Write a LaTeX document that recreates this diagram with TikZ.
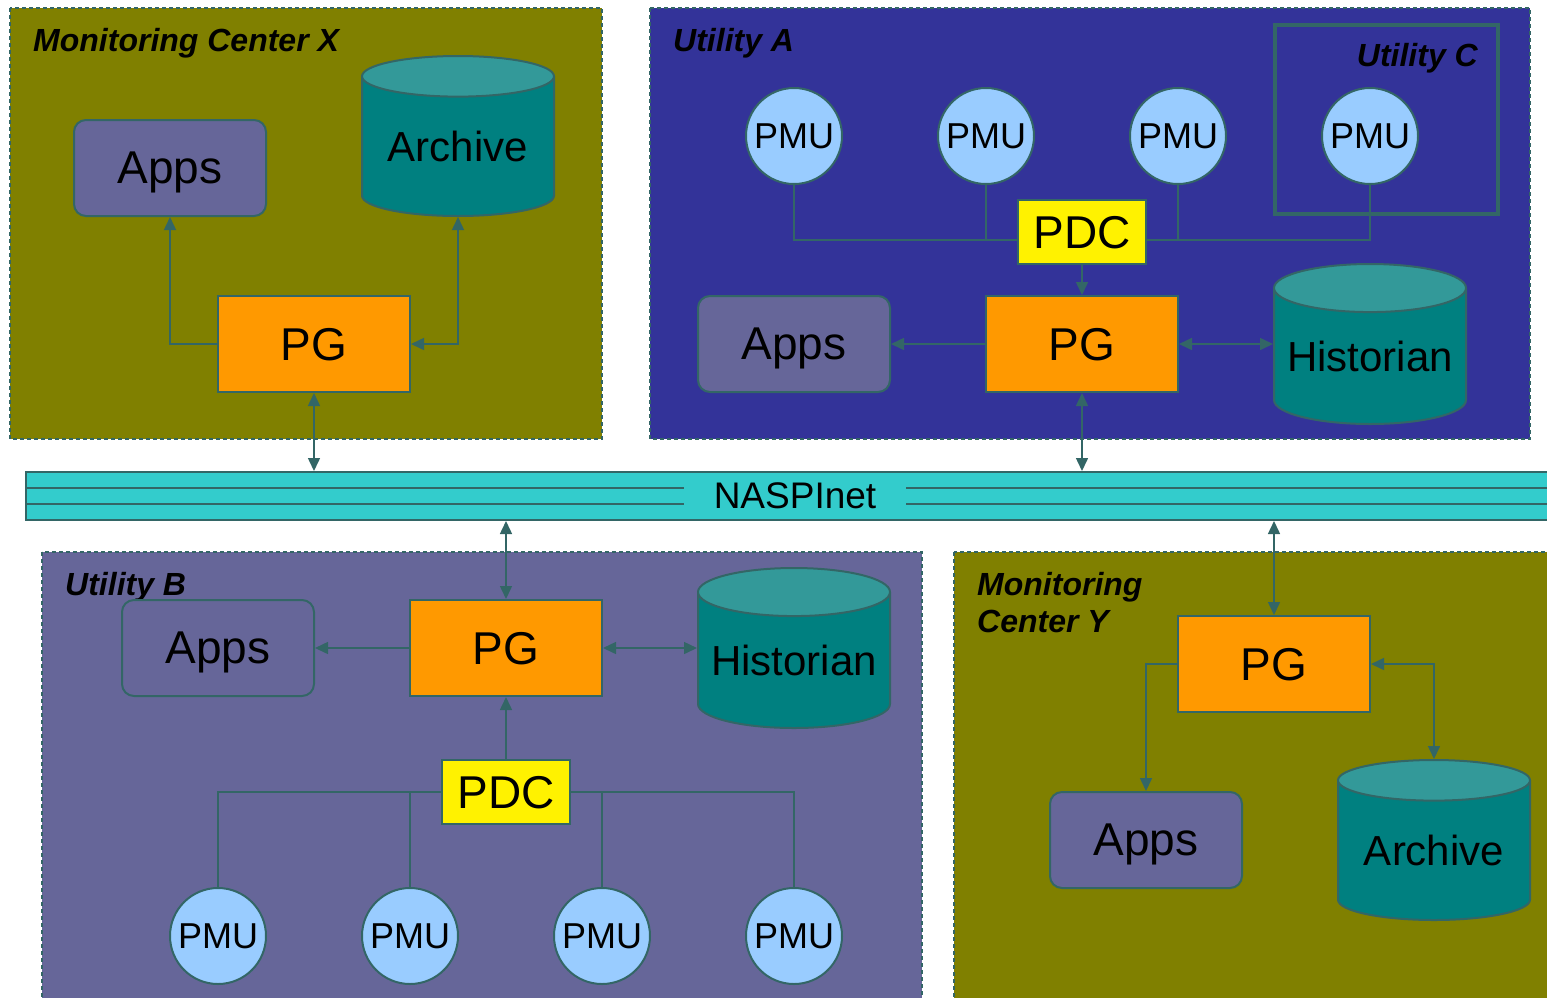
\documentclass[tikz,border=0pt]{standalone}
\usepackage{fontspec}
\setmainfont{Liberation Sans}
\usetikzlibrary{arrows.meta,shapes.geometric,positioning}

\definecolor{olivebg}{HTML}{808000}
\definecolor{utilabg}{HTML}{333399}
\definecolor{utilbbg}{HTML}{666699}
\definecolor{edgecol}{HTML}{336666}
\definecolor{pgcol}{HTML}{FF9900}
\definecolor{pmucol}{HTML}{99CCFF}
\definecolor{dbbody}{HTML}{008080}
\definecolor{dbtop}{HTML}{339999}
\definecolor{netcol}{HTML}{33CCCC}

\begin{document}
\begin{tikzpicture}[x=1pt,y=-1pt,>={Triangle[length=13pt,width=12pt]},
  region/.style={draw=edgecol,line width=1.3pt,dash pattern=on 4pt off 3pt},
  title/.style={anchor=base west,inner sep=0pt,align=left,font=\fontsize{32}{37}\selectfont\bfseries\itshape},
  pg node/.style={rectangle,draw=edgecol,line width=2pt,fill=pgcol,minimum width=192pt,minimum height=96pt,inner sep=0pt,text depth=0pt,font=\fontsize{46}{50}\selectfont},
  apps node/.style={rectangle,rounded corners=12pt,draw=edgecol,line width=2pt,fill=utilbbg,minimum width=192pt,minimum height=96pt,inner sep=0pt,text depth=0pt,font=\fontsize{46}{50}\selectfont},
  pdc node/.style={rectangle,draw=edgecol,line width=2pt,fill=yellow,minimum width=128pt,minimum height=64pt,inner sep=0pt,text depth=0pt,font=\fontsize{46}{50}\selectfont},
  pmu node/.style={circle,draw=edgecol,line width=2pt,fill=pmucol,minimum size=96pt,inner sep=0pt,text depth=0pt,font=\fontsize{36}{40}\selectfont},
  db node/.style={cylinder,shape border rotate=90,aspect=0.29,draw=edgecol,line width=2pt,cylinder uses custom fill,cylinder body fill=dbbody,cylinder end fill=dbtop,minimum width=192pt,minimum height=160pt,inner sep=0pt,text depth=0pt,anchor=shape center,font=\fontsize{42}{46}\selectfont},
  link/.style={draw=edgecol,line width=1.5pt}]

\useasboundingbox (0,0) rectangle (1547,997);

% regions
\draw[region,fill=olivebg] (10,8) rectangle (602,439);
\draw[region,fill=utilabg] (650,8) rectangle (1530,439);
\draw[region,fill=utilbbg] (42,552) rectangle (922,1002);
\draw[region,fill=olivebg] (954,552) rectangle (1552,1002);
\draw[edgecol,line width=4pt] (1275,25) rectangle (1498,214);

% NASPInet
\node[rectangle,draw=edgecol,line width=2pt,fill=netcol,minimum width=1524pt,minimum height=48pt,inner sep=0pt] (net) at (788,496) {};
\draw[edgecol,line width=2pt] ([yshift=8pt]net.west) -- ([yshift=8pt]net.east);
\draw[edgecol,line width=2pt] ([yshift=-8pt]net.west) -- ([yshift=-8pt]net.east);
\node[fill=netcol,inner xsep=30pt,inner ysep=4pt,font=\fontsize{37}{40}\selectfont] (nettext) at (795,496) {NASPInet};

% Monitoring Center X
\node[title] (mcxtitle) at (33,51) {Monitoring Center X};
\node[apps node] (mcxapps) at (170,168) {Apps};
\node[db node] (mcxarch) at (458,136) {Archive};
\node[pg node] (mcxpg) at (314,344) {PG};

% Utility A
\node[title] (uatitle) at (673,51) {Utility A};
\node[title,anchor=base east] (uctitle) at (1478,66) {Utility C};
\foreach \i/\x in {1/794,2/986,3/1178,4/1370}
  \node[pmu node] (pmuA\i) at (\x,136) {PMU};
\node[pdc node] (pdcA) at (1082,232) {PDC};
\node[pg node] (pgA) at (1082,344) {PG};
\node[apps node] (appsA) at (794,344) {Apps};
\node[db node] (histA) at (1370,344) {Historian};

% Utility B
\node[title] (ubtitle) at (65,595) {Utility B};
\node[apps node] (appsB) at (218,648) {Apps};
\node[pg node] (pgB) at (506,648) {PG};
\node[db node] (histB) at (794,648) {Historian};
\node[pdc node] (pdcB) at (506,792) {PDC};
\foreach \i/\x in {1/218,2/410,3/602,4/794}
  \node[pmu node] (pmuB\i) at (\x,936) {PMU};

% Monitoring Center Y
\node[title] (mcytitle) at (977,632) {Monitoring\\Center Y};
\node[pg node] (pgY) at (1274,664) {PG};
\node[apps node] (appsY) at (1146,840) {Apps};
\node[db node] (archY) at (1434,840) {Archive};

% links
\draw[link,->] (mcxpg.west) -| (mcxapps.south);
\draw[link,<->] (mcxpg.east) -| (mcxarch.bottom);
\draw[link,<->] (mcxpg.south) -- (mcxpg.south |- net.north);

\foreach \i in {1,2}
  \draw[link] (pmuA\i.south) |- ([yshift=-8pt]pdcA.west);
\foreach \i in {3,4}
  \draw[link] (pmuA\i.south) |- ([yshift=-8pt]pdcA.east);
\draw[link,->] (pdcA) -- (pgA);
\draw[link,->] (pgA) -- (appsA);
\draw[link,<->] (pgA.east) -- (pgA.east -| histA.west);
\draw[link,<->] (pgA.south) -- (pgA.south |- net.north);

\draw[link,<->] (pgB.north) -- (pgB.north |- net.south);
\draw[link,->] (pgB) -- (appsB);
\draw[link,<->] (pgB.east) -- (pgB.east -| histB.west);
\draw[link,->] (pdcB) -- (pgB);
\foreach \i in {1,2}
  \draw[link] (pmuB\i.north) |- (pdcB.west);
\foreach \i in {3,4}
  \draw[link] (pmuB\i.north) |- (pdcB.east);

\draw[link,<->] (pgY.north) -- (pgY.north |- net.south);
\draw[link,->] (pgY.west) -| (appsY.north);
\draw[link,<->] (pgY.east) -| (archY.top);
\end{tikzpicture}
\end{document}
